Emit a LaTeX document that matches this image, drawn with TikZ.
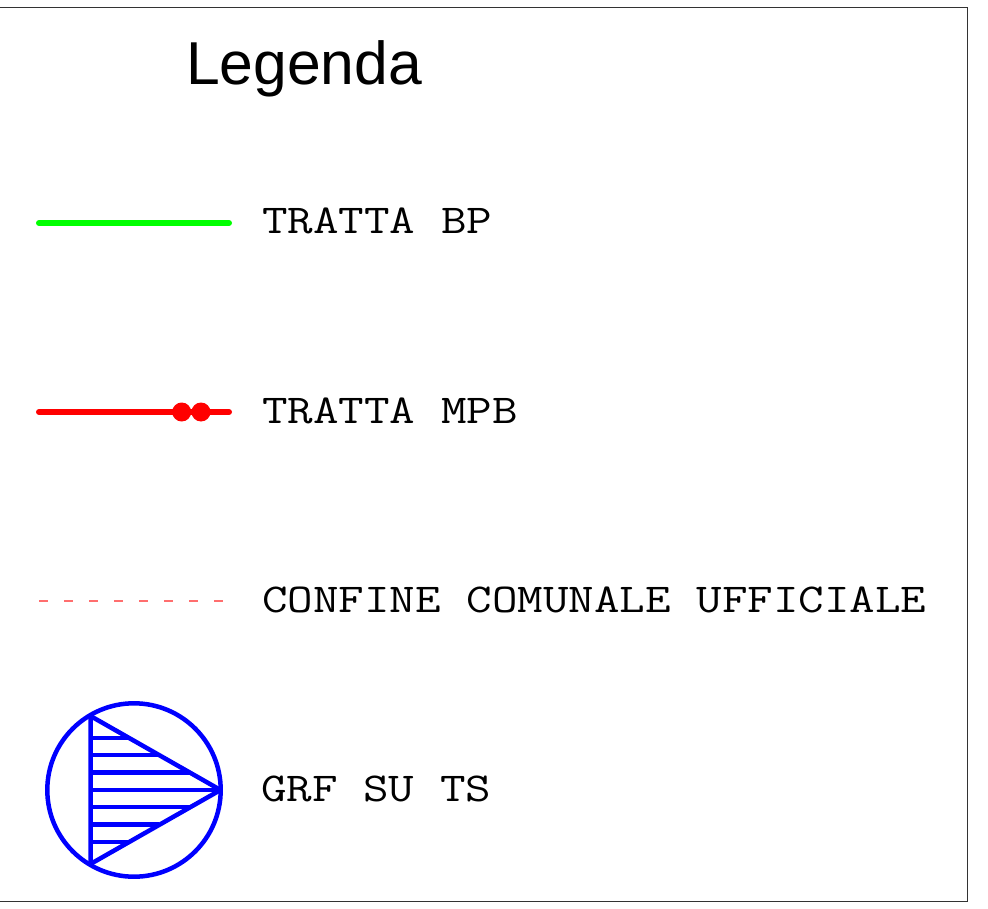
\documentclass[tikz,border=0pt]{standalone}
\usepackage{fontspec}
\setmainfont{Liberation Sans}
\setmonofont{Latin Modern Mono}
\definecolor{confine}{RGB}{255,110,110}
\tikzset{
  voce/.style={anchor=base west,inner sep=0pt,xscale=1.21,transform shape,font=\ttfamily\fontsize{41}{41}\selectfont},
  tratta/.style={line width=6pt,line cap=round},
  grf/.style={color=blue,line width=4.5pt}
}
\begin{document}
\begin{tikzpicture}[x=1pt,y=-1pt]
\useasboundingbox (0,0) rectangle (988,909);
\draw[line width=1pt,color=black!80] (0,8) -- (967,8) -- (967,901) -- (0,901); % frame
\node[anchor=base west,inner sep=0pt,font=\fontsize{60.6}{60.6}\selectfont] (titolo) at (186,85) {Legenda};
% green line
\coordinate (bpa) at (39,223);
\coordinate (bpb) at (229,223);
\draw[tratta,color=green] (bpa) -- (bpb);
\node[voce] (bp) at (262,234) {TRATTA BP};
% red line with the two dots
\coordinate (mpba) at (39,412);
\coordinate (mpbb) at (229,412);
\draw[tratta,color=red] (mpba) -- (mpbb);
\foreach \x in {181.7,201} % edit here for the dots
\fill[color=red,shift={(\x,412)}] (0,0) circle (9.5pt);
\node[voce] (mpb) at (262,423.5) {TRATTA MPB};
% dashed boundary
\foreach \x in {39,64,89,114,139,164,189,214}
\draw[line width=1.2pt,color=confine,shift={(\x,601)}] (0,0) -- (9,0);
\node[voce] (confine) at (262,612.5) {CONFINE COMUNALE UFFICIALE};
% circle and hatched triangle
\coordinate (cerchio) at (134,790);
\draw[grf] (cerchio) circle (86.7pt);
\draw[grf,line join=round] (90.5,716) -- (220.5,790) -- (90.5,864) -- cycle;
\foreach \y/\x in {738/128.5,755/158.5,772.5/189.5,790/220,807/189.5,824.5/158.5,842/128.5} % hatch: height/end on the triangle
\draw[grf] (90.5,\y) -- (\x,\y);
\node[voce] (grf) at (261,801.5) {GRF SU TS};
\end{tikzpicture}
\end{document}
